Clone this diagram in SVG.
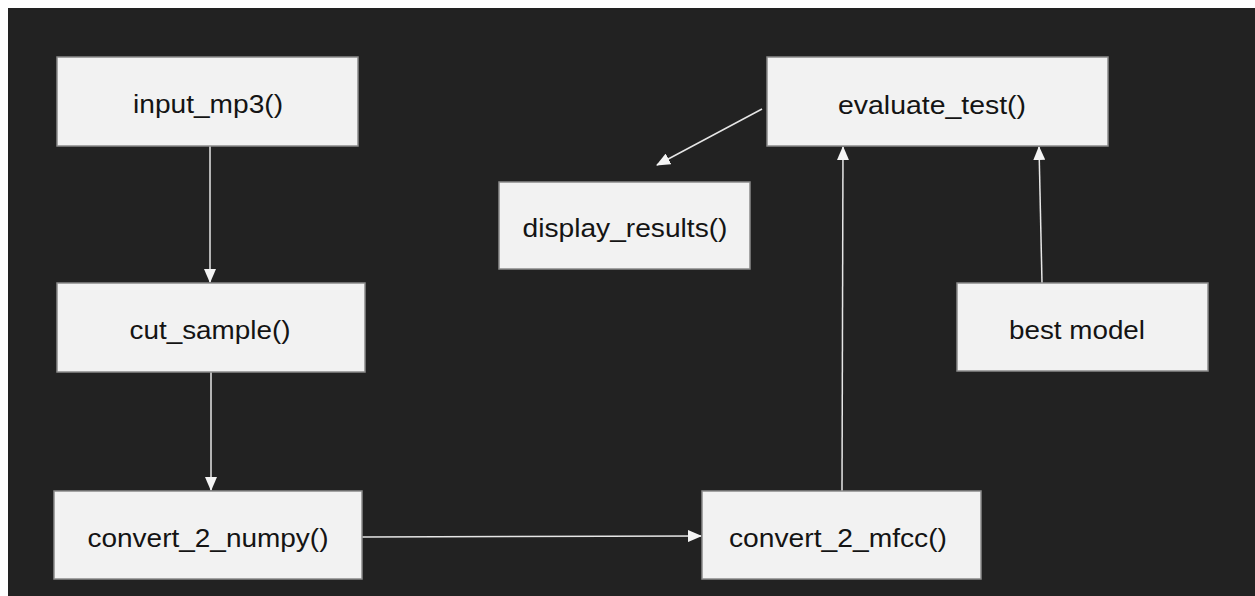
<svg xmlns="http://www.w3.org/2000/svg" width="1255" height="596" viewBox="0 0 1255 596">
<style>
.box{fill:#f2f2f2;stroke:#8a8a8a;stroke-width:1.5}
.lbl{font-family:"Liberation Sans",Arial,sans-serif;font-size:25px;fill:#141414;text-anchor:middle}
.edge{stroke:#e6e6e6;stroke-width:1.5;fill:none;marker-end:url(#ah)}
</style>
<defs>
<marker id="ah" markerUnits="userSpaceOnUse" markerWidth="14" markerHeight="12" viewBox="0 0 14 12" refX="13" refY="6" orient="auto">
<path d="M0,0 L14,6 L0,12 Z" fill="#f4f4f4"/>
</marker>
</defs>
<rect x="0" y="0" width="1255" height="596" fill="#ffffff"/>
<rect x="8" y="8" width="1247" height="588" fill="#222222"/>
<g id="connectors">
<line class="edge" x1="210" y1="146" x2="210" y2="282"/>
<line class="edge" x1="211" y1="372" x2="211" y2="490"/>
<line class="edge" x1="362" y1="537" x2="701" y2="536"/>
<line class="edge" x1="842" y1="491" x2="843" y2="147"/>
<line class="edge" x1="1042" y1="283" x2="1039" y2="147"/>
<line class="edge" x1="762" y1="109" x2="657" y2="165"/>
</g>
<g id="input_mp3"><rect class="box" x="57" y="57" width="301" height="89"/><text class="lbl" x="208" y="113" textLength="150" lengthAdjust="spacingAndGlyphs">input_mp3()</text></g>
<g id="cut_sample"><rect class="box" x="57" y="283" width="308" height="89"/><text class="lbl" x="210" y="339" textLength="161" lengthAdjust="spacingAndGlyphs">cut_sample()</text></g>
<g id="convert_2_numpy"><rect class="box" x="54" y="491" width="308" height="88"/><text class="lbl" x="208" y="547" textLength="241" lengthAdjust="spacingAndGlyphs">convert_2_numpy()</text></g>
<g id="convert_2_mfcc"><rect class="box" x="702" y="491" width="279" height="88"/><text class="lbl" x="838" y="547" textLength="218" lengthAdjust="spacingAndGlyphs">convert_2_mfcc()</text></g>
<g id="evaluate_test"><rect class="box" x="767" y="57" width="341" height="89"/><text class="lbl" x="932" y="114" textLength="188" lengthAdjust="spacingAndGlyphs">evaluate_test()</text></g>
<g id="display_results"><rect class="box" x="499" y="182" width="251" height="87"/><text class="lbl" x="625" y="237" textLength="205" lengthAdjust="spacingAndGlyphs">display_results()</text></g>
<g id="best_model"><rect class="box" x="957" y="283" width="251" height="88"/><text class="lbl" x="1077" y="339" textLength="136" lengthAdjust="spacingAndGlyphs">best model</text></g>
</svg>
